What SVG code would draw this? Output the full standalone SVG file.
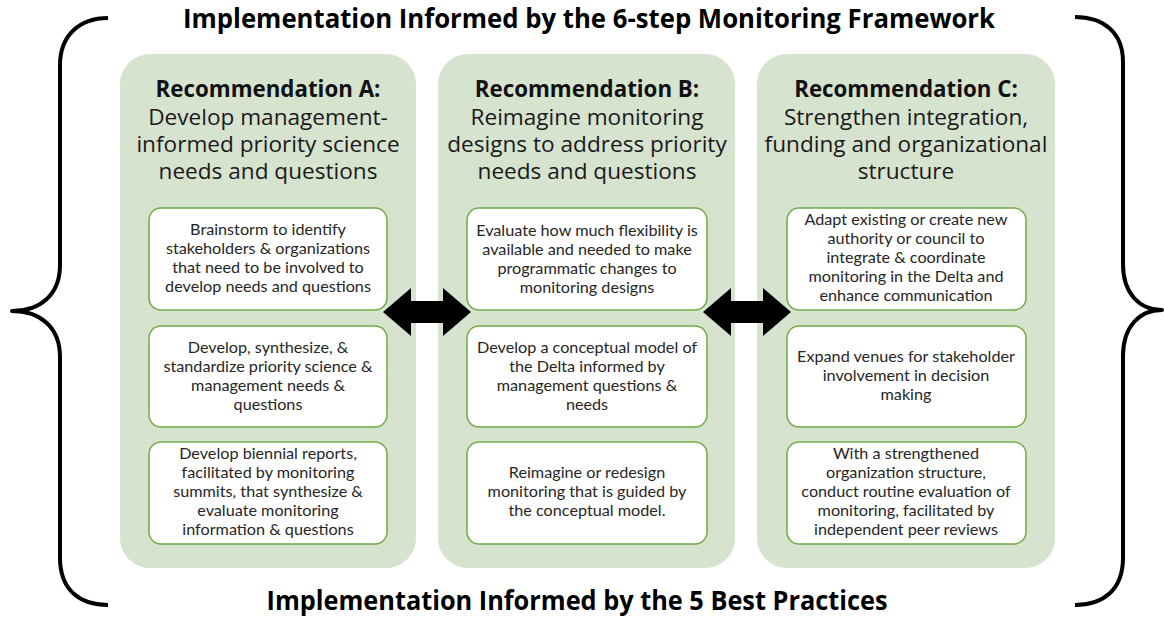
<svg xmlns="http://www.w3.org/2000/svg" width="1164" height="622" viewBox="0 0 1164 622">
<defs>
<style>
.bg{fill:#ffffff}
.panel{fill:#d6e3cf}
.box{fill:#ffffff;stroke:#70ad47;stroke-width:1.5}
.brace{fill:none;stroke:#000000;stroke-width:4;stroke-linecap:butt;stroke-linejoin:round}
.arrow{fill:#000000}
.title{font-family:"Open Sans","Liberation Sans",sans-serif;font-weight:bold;font-size:26px;fill:#000000;text-anchor:middle}
.head{font-family:"Open Sans","Liberation Sans",sans-serif;font-weight:bold;font-size:22.3px;fill:#111111;text-anchor:middle}
.sub{font-family:"Open Sans","Liberation Sans",sans-serif;font-size:22.6px;fill:#1a1a1a;text-anchor:middle}
.txt{font-family:Lato,"Liberation Sans",sans-serif;font-size:16.2px;fill:#262626;text-anchor:middle}
</style>
</defs>
<rect class="bg" x="0" y="0" width="1164" height="622"/>

<g id="braces">
<path class="brace" d="M108,18 C80,18 60,35 60,65 L60,265 C60,295 40,311 12,311 C40,311 60,327 60,357 L60,558 C60,590 80,605 108,605"/>
<path class="brace" d="M1075,17 C1103,17 1123,32 1123,62 L1123,264 C1123,294 1140,310 1162,310 C1140,310 1123,326 1123,356 L1123,558 C1123,590 1103,605 1075,605"/>
</g>

<text class="title" x="589" y="28" textLength="812" lengthAdjust="spacingAndGlyphs">Implementation Informed by the 6-step Monitoring Framework</text>
<text class="title" x="577" y="610" textLength="621" lengthAdjust="spacingAndGlyphs">Implementation Informed by the 5 Best Practices</text>

<g id="panelA">
<rect class="panel" x="120" y="54" width="296" height="514" rx="30"/>
<text class="head" x="268" y="97">Recommendation A:</text>
<text class="sub" x="268" y="125">Develop management-</text>
<text class="sub" x="268" y="152">informed priority science</text>
<text class="sub" x="268" y="179">needs and questions</text>
</g>
<g id="panelB">
<rect class="panel" x="438" y="54" width="297" height="514" rx="30"/>
<text class="head" x="587" y="97">Recommendation B:</text>
<text class="sub" x="587" y="125">Reimagine monitoring</text>
<text class="sub" x="587" y="152">designs to address priority</text>
<text class="sub" x="587" y="179">needs and questions</text>
</g>
<g id="panelC">
<rect class="panel" x="757" y="54" width="298" height="514" rx="30"/>
<text class="head" x="906" y="97">Recommendation C:</text>
<text class="sub" x="906" y="125">Strengthen integration,</text>
<text class="sub" x="906" y="152">funding and organizational</text>
<text class="sub" x="906" y="179">structure</text>
</g>

<g id="A1">
<rect class="box" x="149" y="208" width="238" height="102" rx="12"/>
<text class="txt" x="268" y="235">Brainstorm to identify</text>
<text class="txt" x="268" y="254">stakeholders &amp; organizations</text>
<text class="txt" x="268" y="273">that need to be involved to</text>
<text class="txt" x="268" y="292">develop needs and questions</text>
</g>
<g id="A2">
<rect class="box" x="149" y="326" width="238" height="101" rx="12"/>
<text class="txt" x="268" y="353">Develop, synthesize, &amp;</text>
<text class="txt" x="268" y="372">standardize priority science &amp;</text>
<text class="txt" x="268" y="391">management needs &amp;</text>
<text class="txt" x="268" y="410">questions</text>
</g>
<g id="A3">
<rect class="box" x="149" y="442" width="238" height="102" rx="12"/>
<text class="txt" x="268" y="459">Develop biennial reports,</text>
<text class="txt" x="268" y="478">facilitated by monitoring</text>
<text class="txt" x="268" y="497">summits, that synthesize &amp;</text>
<text class="txt" x="268" y="516">evaluate monitoring</text>
<text class="txt" x="268" y="535">information &amp; questions</text>
</g>

<g id="B1">
<rect class="box" x="467" y="208" width="240" height="102" rx="12"/>
<text class="txt" x="587" y="236">Evaluate how much flexibility is</text>
<text class="txt" x="587" y="255">available and needed to make</text>
<text class="txt" x="587" y="274">programmatic changes to</text>
<text class="txt" x="587" y="293">monitoring designs</text>
</g>
<g id="B2">
<rect class="box" x="467" y="326" width="240" height="101" rx="12"/>
<text class="txt" x="587" y="353">Develop a conceptual model of</text>
<text class="txt" x="587" y="372">the Delta informed by</text>
<text class="txt" x="587" y="391">management questions &amp;</text>
<text class="txt" x="587" y="410">needs</text>
</g>
<g id="B3">
<rect class="box" x="467" y="442" width="240" height="102" rx="12"/>
<text class="txt" x="587" y="478">Reimagine or redesign</text>
<text class="txt" x="587" y="497">monitoring that is guided by</text>
<text class="txt" x="587" y="516">the conceptual model.</text>
</g>

<g id="C1">
<rect class="box" x="787" y="208" width="239" height="102" rx="12"/>
<text class="txt" x="906" y="225">Adapt existing or create new</text>
<text class="txt" x="906" y="244">authority or council to</text>
<text class="txt" x="906" y="263">integrate &amp; coordinate</text>
<text class="txt" x="906" y="282">monitoring in the Delta and</text>
<text class="txt" x="906" y="301">enhance communication</text>
</g>
<g id="C2">
<rect class="box" x="787" y="326" width="239" height="101" rx="12"/>
<text class="txt" x="906" y="362">Expand venues for stakeholder</text>
<text class="txt" x="906" y="381">involvement in decision</text>
<text class="txt" x="906" y="400">making</text>
</g>
<g id="C3">
<rect class="box" x="787" y="442" width="239" height="102" rx="12"/>
<text class="txt" x="906" y="459">With a strengthened</text>
<text class="txt" x="906" y="478">organization structure,</text>
<text class="txt" x="906" y="497">conduct routine evaluation of</text>
<text class="txt" x="906" y="516">monitoring, facilitated by</text>
<text class="txt" x="906" y="535">independent peer reviews</text>
</g>

<g id="connectors">
<polygon class="arrow" points="383,312 411,288 411,301 443,301 443,288 471,312 443,336 443,323 411,323 411,336"/>
<polygon class="arrow" points="703,312 731,288 731,301 763,301 763,288 791,312 763,336 763,323 731,323 731,336"/>
</g>
</svg>
